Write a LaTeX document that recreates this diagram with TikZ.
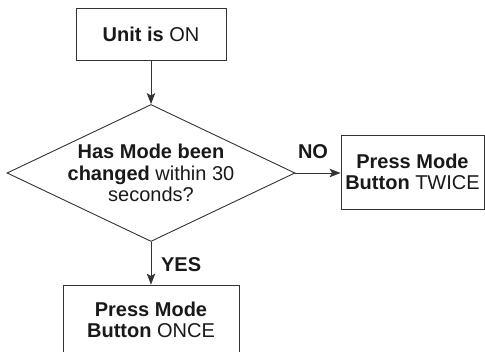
\documentclass[tikz,border=0pt]{standalone}
\usepackage{fontspec}
\setmainfont{Liberation Sans}
\usetikzlibrary{shapes.geometric,arrows.meta}

\tikzset{
    stepbox/.style={draw=black!80,line width=0.9pt,align=center,inner sep=0pt},
    flow/.style={draw=black!80,line width=0.9pt,-{Stealth[length=11pt,width=8.5pt,inset=2.5pt]}},
    answer/.style={font=\fontsize{20}{21.5}\selectfont\bfseries}
}

\begin{document}
\begin{tikzpicture}[x=1pt,y=-1pt,every node/.style={font=\fontsize{20}{21.5}\selectfont,text=black!90}]
        \clip (0,0) rectangle (485,352); % same size as the picture, bottom box runs off the page
        \node[stepbox,minimum width=150pt,minimum height=52pt] (start) at (151,34) {\textbf{Unit is} ON};
        % text as label so the diamond keeps its own size
        \node[stepbox,diamond,aspect=2.1,minimum width=288pt,minimum height=137pt,
            label={[align=center]center:{\textbf{Has Mode been}\\\textbf{changed} within 30\\seconds?}}] (ask) at (151,173) {};
        \node[stepbox,minimum width=143pt,minimum height=74pt] (twice) at (412.5,172) {\textbf{Press Mode}\\\textbf{Button} TWICE};
        \node[stepbox,minimum width=176pt,minimum height=70pt] (once) at (151,320) {\textbf{Press Mode}\\\textbf{Button} ONCE};
        \draw[flow] (start) -- (ask);
        \draw[flow] (ask) -- node[answer,above=10.5pt,pos=0.39] {NO} (ask -| twice.west);
        \draw[flow] (ask) -- node[answer,right=6.3pt,pos=0.54] {YES} (once);
    \end{tikzpicture}
\end{document}
